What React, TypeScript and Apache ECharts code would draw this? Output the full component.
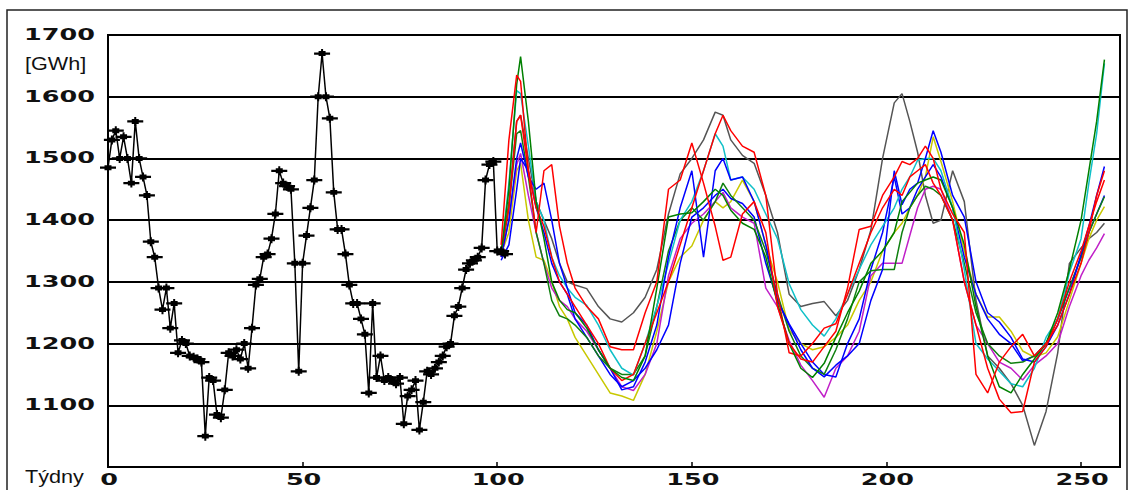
import React, { useEffect, useRef } from 'react';
import * as echarts from 'echarts';

// ---- observed weekly consumption (weeks 0..102) ----
const historyValues = [
  1485, 1530, 1545, 1500, 1535, 1500, 1460, 1560, 1500, 1470,
  1440, 1365, 1340, 1290, 1255, 1290, 1225, 1265, 1185, 1205,
  1200, 1180, 1178, 1175, 1170, 1050, 1145, 1140, 1085, 1080,
  1125, 1185, 1180, 1190, 1175, 1200, 1160, 1225, 1295, 1305,
  1340, 1345, 1370, 1410, 1480, 1460, 1455, 1450, 1330, 1155,
  1330, 1375, 1420, 1465, 1600, 1670, 1600, 1565, 1445, 1385,
  1385, 1345, 1295, 1265, 1265, 1240, 1215, 1120, 1265, 1145,
  1180, 1140, 1145, 1140, 1135, 1145, 1070, 1115, 1125, 1140,
  1060, 1105, 1155, 1150, 1160, 1170, 1180, 1195, 1200, 1245,
  1260, 1290, 1320, 1330, 1335, 1340, 1355, 1465, 1490, 1495,
  1350, 1350, 1345,
];

// ---- forecast scenarios (weeks) ----
const forecastWeeks = [
  101, 103, 105, 106, 108, 110, 112, 114, 116, 118,
  120, 123, 126, 129, 132, 135, 138, 141, 144, 147,
  150, 153, 156, 158, 160, 163, 166, 169, 172, 175,
  178, 181, 184, 187, 190, 193, 196, 199, 202, 204,
  206, 208, 210, 212, 214, 217, 220, 223, 226, 229,
  232, 235, 238, 241, 244, 247, 250, 252, 254, 256,
];

const redA = [
  1360, 1530, 1635, 1625, 1480, 1380, 1480, 1490, 1390, 1330,
  1290, 1260, 1240, 1195, 1190, 1190, 1250, 1300, 1450, 1465,
  1525, 1460, 1390, 1335, 1340, 1410, 1430, 1380, 1260, 1200,
  1175, 1170, 1195, 1220, 1290, 1385, 1390, 1440, 1470, 1495,
  1490, 1500, 1520, 1500, 1450, 1410, 1380, 1150, 1120, 1170,
  1195, 1215, 1180, 1200, 1230, 1280, 1330, 1380, 1440, 1480,
];
const redB = [
  1350, 1420, 1560, 1570, 1480, 1420, 1390, 1340, 1300, 1280,
  1260, 1230, 1200, 1160, 1140, 1150, 1200, 1250, 1300, 1360,
  1420, 1480, 1540, 1570, 1545, 1520, 1510, 1440, 1280, 1185,
  1180, 1200, 1225, 1232, 1280, 1330, 1380, 1420, 1450, 1440,
  1470, 1480, 1490, 1460, 1440, 1400, 1300, 1230, 1160, 1110,
  1088, 1090, 1170, 1195, 1240, 1300, 1350, 1390, 1430, 1465,
];
const blueA = [
  1340, 1400, 1500, 1525, 1470, 1450, 1460, 1400, 1330, 1290,
  1250, 1230, 1190, 1160, 1125, 1130, 1170, 1230, 1340, 1420,
  1480, 1340, 1480, 1500, 1465, 1470, 1430, 1360, 1270, 1230,
  1190, 1160, 1146, 1165, 1180, 1200, 1270, 1320, 1480, 1425,
  1450, 1460, 1500, 1545, 1510, 1440, 1405, 1300, 1250, 1235,
  1210, 1175, 1170, 1195, 1230, 1280, 1345, 1390, 1440, 1487,
];
const blueB = [
  1335, 1360, 1450, 1500, 1480, 1420, 1380, 1330, 1300, 1280,
  1240, 1210, 1180, 1150, 1130, 1140, 1160, 1190, 1230, 1330,
  1405, 1420, 1440, 1450, 1435, 1427, 1405, 1330, 1270, 1232,
  1200, 1170, 1150, 1146, 1200, 1240, 1320, 1380, 1470, 1410,
  1420, 1450, 1470, 1490, 1470, 1420, 1340, 1280, 1240, 1215,
  1200, 1172, 1180, 1200, 1240, 1290, 1340, 1380, 1410, 1440,
];
const greenA = [
  1345, 1450, 1620, 1665, 1560, 1430, 1370, 1300, 1270, 1255,
  1250, 1225, 1190, 1160, 1145, 1140, 1180, 1290, 1405, 1410,
  1412, 1430, 1450, 1440, 1416, 1395, 1385, 1340, 1265, 1200,
  1160, 1145, 1168, 1210, 1250, 1285, 1330, 1350, 1380, 1430,
  1445, 1460, 1465, 1470, 1465, 1420, 1360, 1260, 1180, 1130,
  1120, 1150, 1175, 1200, 1250, 1320, 1400, 1480, 1560, 1660,
];
const greenB = [
  1345, 1420, 1540, 1545, 1470, 1380, 1330, 1270, 1245, 1240,
  1230, 1210, 1180, 1160, 1150, 1150, 1180, 1260, 1350, 1400,
  1420, 1400, 1430, 1460, 1440, 1420, 1400, 1350, 1280, 1220,
  1180, 1160, 1150, 1190, 1240, 1300, 1318, 1320, 1320, 1380,
  1420, 1440, 1455, 1450, 1440, 1400, 1330, 1250, 1200, 1180,
  1168, 1170, 1180, 1200, 1240, 1290, 1340, 1380, 1410, 1438,
];
const cyan = [
  1345, 1460, 1610, 1605, 1520, 1430, 1400, 1340, 1310, 1290,
  1275, 1262, 1230, 1190, 1160, 1149, 1200, 1260, 1330, 1400,
  1430, 1480, 1540, 1520, 1465, 1470, 1450, 1410, 1370, 1297,
  1255, 1230, 1212, 1240, 1280, 1320, 1360, 1390, 1420, 1450,
  1470, 1497, 1500, 1500, 1480, 1420, 1320, 1200, 1175, 1155,
  1135, 1130, 1160, 1210, 1240, 1315, 1370, 1460, 1540, 1654,
];
const magenta = [
  1340, 1400, 1490, 1508, 1440, 1380, 1330, 1290, 1270, 1260,
  1240, 1220, 1190, 1160, 1130, 1124, 1150, 1200, 1310, 1370,
  1395, 1410, 1430, 1445, 1420, 1405, 1395, 1290, 1260, 1205,
  1165, 1140, 1113, 1160, 1180, 1220, 1310, 1330, 1330, 1330,
  1375, 1420, 1450, 1455, 1450, 1400, 1300, 1230, 1200, 1170,
  1160, 1141, 1165, 1180, 1200, 1260, 1310, 1335, 1355, 1378,
];
const olive = [
  1345, 1380, 1480, 1492, 1400, 1340, 1335, 1300, 1260, 1240,
  1210, 1180, 1150, 1120, 1115, 1108, 1150, 1220, 1300, 1340,
  1358, 1400, 1430, 1420, 1430, 1465, 1430, 1360, 1300, 1222,
  1200, 1190, 1195, 1210, 1230, 1270, 1300, 1350, 1380, 1395,
  1420, 1440, 1470, 1535, 1495, 1430, 1350, 1280, 1243, 1243,
  1220, 1188, 1178, 1185, 1211, 1270, 1330, 1370, 1400, 1422,
];
const gray = [
  1345, 1430, 1560, 1570, 1500, 1430, 1400, 1370, 1330, 1300,
  1295, 1289, 1260, 1240, 1235, 1250, 1275, 1320, 1410, 1475,
  1500, 1530, 1575, 1570, 1530, 1505, 1492, 1440, 1380, 1280,
  1260, 1265, 1268, 1245, 1270, 1320, 1384, 1500, 1590, 1605,
  1560, 1510, 1440, 1395, 1400, 1480, 1430, 1270, 1180, 1160,
  1135, 1100, 1035, 1090, 1185, 1330, 1355, 1370, 1380, 1395,
];

const yTickLabels = [1100, 1200, 1300, 1400, 1500, 1600, 1700];
const xTickLabels = [0, 50, 100, 150, 200, 250];

const scenarios = [
  { name: 'gray', data: gray, color: '#555555' },
  { name: 'olive', data: olive, color: '#c8c800' },
  { name: 'magenta', data: magenta, color: '#c020c8' },
  { name: 'blueB', data: blueB, color: '#0000ff' },
  { name: 'greenB', data: greenB, color: '#108010' },
  { name: 'cyan', data: cyan, color: '#10c0c8' },
  { name: 'blueA', data: blueA, color: '#0000ff' },
  { name: 'redB', data: redB, color: '#ff0000' },
  { name: 'greenA', data: greenA, color: '#008000' },
  { name: 'redA', data: redA, color: '#ff0000' },
];

const markerPath =
  'path://M0,3 H16 V5 H0 Z M7,0 H9 V8 H7 Z M4.5,1.8 H11.5 V6.2 H4.5 Z';

export default function App() {
  const ref = useRef<HTMLDivElement>(null);
  useEffect(() => {
    const chart = echarts.init(ref.current!, null, { renderer: 'svg' });
    const series: any[] = scenarios.map((s) => ({
      name: s.name,
      type: 'line',
      data: forecastWeeks.map((w, i) => [w, s.data[i]]),
      showSymbol: false,
      lineStyle: { color: s.color, width: 1.5 },
      itemStyle: { color: s.color },
      z: 3,
    }));
    series.push({
      name: 'history',
      type: 'line',
      data: historyValues.map((v, i) => [i, v]),
      symbol: markerPath,
      symbolSize: [16, 9],
      showSymbol: true,
      showAllSymbol: true,
      lineStyle: { color: '#000', width: 1.5 },
      itemStyle: { color: '#000' },
      z: 4,
    });
    chart.setOption({
      animation: false,
      backgroundColor: '#fff',
      grid: {
        left: 108,
        top: 35,
        right: 11,
        bottom: 23,
        show: true,
        borderColor: '#000',
        borderWidth: 2,
      },
      xAxis: {
        type: 'value',
        min: 0,
        max: 260,
        interval: 50,
        axisLine: { show: true, lineStyle: { color: '#000', width: 2 } },
        axisTick: { show: true, inside: true, length: 5, lineStyle: { color: '#000', width: 1.5 } },
        axisLabel: { show: false },
        splitLine: { show: false },
      },
      yAxis: {
        type: 'value',
        min: 1000,
        max: 1700,
        interval: 100,
        axisLine: { show: true, lineStyle: { color: '#000', width: 2 } },
        axisTick: { show: false },
        axisLabel: { show: false },
        splitLine: { show: true, lineStyle: { color: '#000', width: 2 } },
      },
      series,
    });

    const labelFont = 'bold 15px "DejaVu Sans"';
    const graphics: any[] = [
      {
        type: 'rect',
        shape: { x: 7, y: 10, width: 1120, height: 490 },
        style: { fill: 'none', stroke: '#222', lineWidth: 1.5 },
        silent: true,
      },
    ];
    yTickLabels.forEach((t) => {
      const p = chart.convertToPixel({ gridIndex: 0 }, [0, t]);
      graphics.push({
        type: 'text',
        x: 95,
        y: p[1],
        scaleX: 1.7,
        style: {
          text: String(t),
          font: labelFont,
          fill: '#111',
          align: 'right',
          verticalAlign: 'middle',
          textAlign: 'right',
          textVerticalAlign: 'middle',
        },
      });
    });
    xTickLabels.forEach((t) => {
      const p = chart.convertToPixel({ gridIndex: 0 }, [t, 1000]);
      graphics.push({
        type: 'text',
        x: p[0] + 1,
        y: 480,
        scaleX: 1.7,
        style: {
          text: String(t),
          font: labelFont,
          fill: '#111',
          align: 'center',
          verticalAlign: 'middle',
          textAlign: 'center',
          textVerticalAlign: 'middle',
        },
      });
    });
    graphics.push({
      type: 'text',
      x: 25,
      y: 64,
      scaleX: 1.2,
      style: {
        text: '[GWh]',
        font: '18px "Liberation Sans"',
        fill: '#111',
        align: 'left',
        verticalAlign: 'middle',
        textAlign: 'left',
        textVerticalAlign: 'middle',
      },
    });
    graphics.push({
      type: 'text',
      x: 25,
      y: 477,
      scaleX: 1.2,
      style: {
        text: 'Týdny',
        font: '18px "Liberation Sans"',
        fill: '#111',
        align: 'left',
        verticalAlign: 'middle',
        textAlign: 'left',
        textVerticalAlign: 'middle',
      },
    });
    chart.setOption({ graphic: graphics });
    return () => chart.dispose();
  }, []);
  return (
    <div
      ref={ref}
      style={{ position: 'fixed', left: 0, top: 0, width: 1131, height: 490, background: '#fff' }}
    />
  );
}
